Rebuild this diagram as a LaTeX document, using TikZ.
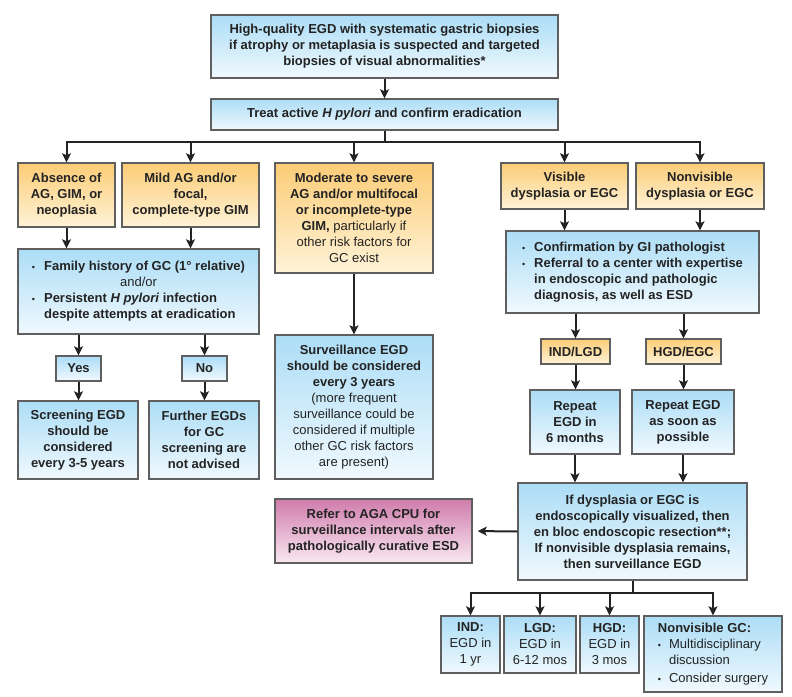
\documentclass[tikz,border=0pt]{standalone}
\usepackage{fontspec}
\setmainfont{Liberation Sans}
\usetikzlibrary{arrows.meta}
\newcommand{\boxBorder}[0]{1.4pt}
\newcommand{\linkWidth}[0]{2pt}
\newcommand{\dotMark}[0]{{\mdseries\small\textbullet}}
\definecolor{inkGray}{RGB}{35,35,35}
\definecolor{frameGray}{RGB}{95,95,95}
\definecolor{blueTop}{RGB}{172,221,246}
\definecolor{blueBottom}{RGB}{240,249,254}
\definecolor{orangeTop}{RGB}{251,204,118}
\definecolor{orangeBottom}{RGB}{255,243,216}
\definecolor{pinkTop}{RGB}{208,124,172}
\definecolor{pinkBottom}{RGB}{249,232,242}

\begin{document}
\begin{tikzpicture}[x=1pt, y=-1pt]
  \tikzset{
    every node/.style={font=\fontsize{13}{16}\selectfont\bfseries, text=inkGray, align=center, inner sep=2pt},
    blue box/.style={draw=frameGray, line width=\boxBorder, top color=blueTop, bottom color=blueBottom},
    orange box/.style={draw=frameGray, line width=\boxBorder, top color=orangeTop, bottom color=orangeBottom},
    pink box/.style={draw=frameGray, line width=\boxBorder, top color=pinkTop, bottom color=pinkBottom},
    link/.style={draw=inkGray, line width=\linkWidth},
    arrow/.style={link, -{Stealth[length=9pt, width=9pt, inset=2pt]}}
  }
  \useasboundingbox (0,0) rectangle (792,696);

  \node[blue box, minimum width=347pt, minimum height=63pt] (egd) at (384.5,46.5)
    {High-quality EGD with systematic gastric biopsies\\if atrophy or metaplasia is suspected and targeted\\biopsies of visual abnormalities*};
  \node[blue box, minimum width=347pt, minimum height=31pt] (treat) at (384.5,114.5)
    {Treat active \textit{H pylori} and confirm eradication};

  \node[orange box, minimum width=97pt, minimum height=64pt] (absence) at (66.5,195)
    {Absence of\\AG, GIM, or\\neoplasia};
  \node[orange box, minimum width=137pt, minimum height=64pt] (mild) at (190.5,195)
    {Mild AG and/or\\focal,\\complete-type GIM};
  \node[orange box, minimum width=158pt, minimum height=110pt] (moderate) at (354,218)
    {Moderate to severe\\AG and/or multifocal\\or incomplete-type\\GIM, \textmd{particularly if}\\\textmd{other risk factors for}\\\textmd{GC exist}};
  \node[orange box, minimum width=127pt, minimum height=46pt] (visible) at (564.5,186)
    {Visible\\dysplasia or EGC};
  \node[orange box, minimum width=128pt, minimum height=46pt] (nonvis) at (700,186)
    {Nonvisible\\dysplasia or EGC};

  \node[blue box, minimum width=241pt, minimum height=85pt] (family) at (138.5,291.5)
    {\begin{tabular}{@{}l@{\hspace{9pt}}l@{}}
      \dotMark & Family history of GC (1° relative)\\
      \multicolumn{2}{c}{\textmd{and/or}}\\
      \dotMark & Persistent \textit{H pylori} infection\\
               & despite attempts at eradication
    \end{tabular}};
  \node[blue box, minimum width=253pt, minimum height=82pt] (confirm) at (632.5,272)
    {\begin{tabular}{@{}l@{\hspace{9pt}}l@{}}
      \dotMark & Confirmation by GI pathologist\\
      \dotMark & Referral to a center with expertise\\
               & in endoscopic and pathologic\\
               & diagnosis, as well as ESD
    \end{tabular}};

  \node[blue box, minimum width=45pt, minimum height=25pt] (yes) at (78.5,368.5) {Yes};
  \node[blue box, minimum width=45pt, minimum height=25pt] (no) at (204.5,368.5) {No};
  \node[blue box, minimum width=120pt, minimum height=78pt] (screening) at (78,440)
    {Screening EGD\\should be\\considered\\every 3-5 years};
  \node[blue box, minimum width=110pt, minimum height=78pt] (further) at (204,440)
    {Further EGDs\\for GC\\screening are\\not advised};
  \node[blue box, minimum width=158pt, minimum height=144pt] (surveil) at (354,407)
    {Surveillance EGD\\should be considered\\every 3 years\\\textmd{(more frequent}\\\textmd{surveillance could be}\\\textmd{considered if multiple}\\\textmd{other GC risk factors}\\\textmd{are present)}};

  \node[orange box, minimum width=69pt, minimum height=25pt] (indlgd) at (575.5,351.5) {IND/LGD};
  \node[orange box, minimum width=75pt, minimum height=25pt] (hgdegc) at (683.5,351.5) {HGD/EGC};
  \node[blue box, minimum width=90pt, minimum height=64pt] (repeatsix) at (575,422)
    {Repeat\\EGD in\\6 months};
  \node[blue box, minimum width=102pt, minimum height=64pt] (repeatsoon) at (683,422)
    {Repeat EGD\\as soon as\\possible};

  \node[blue box, minimum width=229pt, minimum height=97pt] (resect) at (632.5,531.5)
    {If dysplasia or EGC is\\endoscopically visualized, then\\en bloc endoscopic resection**;\\If nonvisible dysplasia remains,\\then surveillance EGD};
  \node[pink box, minimum width=197pt, minimum height=64pt] (refer) at (373.5,531)
    {Refer to AGA CPU for\\surveillance intervals after\\pathologically curative ESD};

  \node[blue box, minimum width=59pt, minimum height=57pt] (ind) at (470.5,644.5)
    {IND:\\\textmd{EGD in}\\\textmd{1 yr}};
  \node[blue box, minimum width=72pt, minimum height=57pt] (lgd) at (540,644.5)
    {LGD:\\\textmd{EGD in}\\\textmd{6-12 mos}};
  \node[blue box, minimum width=59pt, minimum height=57pt] (hgd) at (609.5,644.5)
    {HGD:\\\textmd{EGD in}\\\textmd{3 mos}};
  \node[blue box, minimum width=138pt, minimum height=76pt] (nvgc) at (713,654)
    {\begin{tabular}{@{}l@{\hspace{8pt}}l@{}}
      \multicolumn{2}{@{}l@{}}{Nonvisible GC:}\\
      \dotMark & \textmd{Multidisciplinary}\\
               & \textmd{discussion}\\[2pt]
      \dotMark & \textmd{Consider surgery}
    \end{tabular}};

  \draw[arrow] (egd.south) -- (treat.north);
  \draw[link] (treat.south) -- ++(0,11) coordinate (topfork);
  \draw[link, line cap=rect] (absence.north |- topfork) -- (nonvis.north |- topfork);
  \foreach \target in {absence, mild, moderate, visible, nonvis}
    \draw[arrow] (\target.north |- topfork) -- (\target.north);

  \draw[arrow] (absence.south) -- (absence.south |- family.north);
  \draw[arrow] (mild.south) -- (mild.south |- family.north);
  \draw[arrow] (yes.north |- family.south) -- (yes.north);
  \draw[arrow] (no.north |- family.south) -- (no.north);
  \draw[arrow] (yes.south) -- (yes.south |- screening.north);
  \draw[arrow] (no.south) -- (no.south |- further.north);
  \draw[arrow] (moderate.south) -- (surveil.north);

  \draw[arrow] (visible.south) -- (visible.south |- confirm.north);
  \draw[arrow] (nonvis.south) -- (nonvis.south |- confirm.north);
  \draw[arrow] (indlgd.north |- confirm.south) -- (indlgd.north);
  \draw[arrow] (hgdegc.north |- confirm.south) -- (hgdegc.north);
  \draw[arrow] (indlgd.south) -- (indlgd.south |- repeatsix.north);
  \draw[arrow] (hgdegc.south) -- (hgdegc.south |- repeatsoon.north);
  \draw[arrow] (repeatsix.south) -- (repeatsix.south |- resect.north);
  \draw[arrow] (repeatsoon.south) -- (repeatsoon.south |- resect.north);

  \draw[arrow, shorten >=5pt] (resect.west) -- (refer.east);
  \draw[link] (resect.south) -- ++(0,12) coordinate (lowfork);
  \draw[link, line cap=rect] (ind.north |- lowfork) -- (nvgc.north |- lowfork);
  \foreach \target in {ind, lgd, hgd, nvgc}
    \draw[arrow] (\target.north |- lowfork) -- (\target.north);
\end{tikzpicture}
\end{document}
